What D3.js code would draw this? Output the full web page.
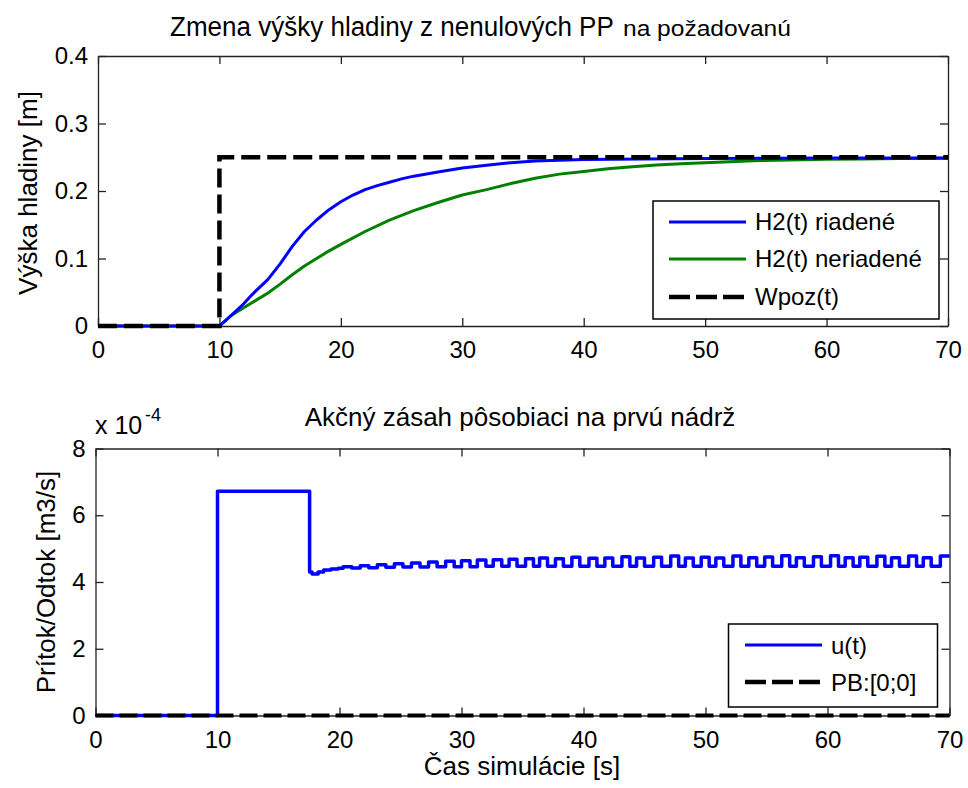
<!DOCTYPE html>
<html><head><meta charset="utf-8">
<script src="https://cdn.jsdelivr.net/npm/d3@7"></script>
<style>
html,body{margin:0;padding:0;background:#fff;}
svg{display:block;}
text{font-family:"Liberation Sans",Arial,sans-serif;fill:#000;}
</style></head>
<body>
<svg id="chart" width="968" height="788"></svg>
<script>
// ---------- DATA ----------
const xTicks = [0, 10, 20, 30, 40, 50, 60, 70];
const topYTicks = [0, 0.1, 0.2, 0.3, 0.4];
const topYTickLabels = ["0", "0.1", "0.2", "0.3", "0.4"];
const botYTicks = [0, 2, 4, 6, 8];

// Wpoz(t) - setpoint step
const wpozTime = [0, 10, 10, 70];
const wpozValue = [0, 0, 0.25, 0.25];

// H2(t) riadené (controlled)
const h2cTime  = [0, 10, 11, 12, 12.5, 13, 14, 15, 16, 17, 18, 19, 20, 21, 22, 23, 24, 25, 26, 28, 30, 32, 34, 36, 38, 40, 45, 50, 55, 60, 65, 70];
const h2cValue = [0, 0, 0.016, 0.033, 0.043, 0.052, 0.069, 0.092, 0.118, 0.140, 0.157, 0.172, 0.184, 0.194, 0.202, 0.208, 0.213, 0.218, 0.222, 0.228, 0.234, 0.238, 0.242, 0.2445, 0.2455, 0.2465, 0.2475, 0.248, 0.2485, 0.249, 0.249, 0.249];

// H2(t) neriadené (uncontrolled)
const h2uTime  = [0, 10, 11, 12, 13, 14, 15, 16, 17, 18, 19, 20, 22, 24, 26, 28, 30, 32, 34, 36, 38, 40, 42, 44, 46, 48, 50, 52, 54, 57, 60, 63, 66, 70];
const h2uValue = [0, 0, 0.016, 0.027, 0.038, 0.049, 0.062, 0.076, 0.089, 0.100, 0.111, 0.121, 0.140, 0.157, 0.171, 0.183, 0.194, 0.202, 0.211, 0.219, 0.225, 0.229, 0.233, 0.236, 0.2385, 0.2405, 0.242, 0.2435, 0.2448, 0.246, 0.247, 0.2475, 0.248, 0.2485];

// u(t) action signal (x 1e-4), step-after samples
const uTime = [0, 10, 17.55, 17.75, 18.25, 18.7, 19.3, 19.9,
  20.3, 21.0, 21.7, 22.4, 23.1, 23.8, 24.5, 25.2, 25.9, 26.6, 27.3, 28.0, 28.7, 29.4,
  30.0, 30.7, 31.3, 32.0, 32.6, 33.3, 33.9, 34.55, 35.25, 35.9, 36.4, 37.05, 37.7, 38.35,
  39.05, 39.7, 40.45, 41.1, 41.75, 42.4, 43.15, 43.8, 44.35, 45.0, 45.75, 46.4, 47.15, 47.8,
  48.35, 49.0, 49.65, 50.3, 50.85, 51.5, 52.25, 52.9, 53.55, 54.2, 54.85, 55.5, 56.25, 56.9,
  57.45, 58.1, 58.85, 59.5, 60.25, 60.9, 61.45, 62.1, 62.65, 63.3, 64.05, 64.7, 65.25, 65.9,
  66.65, 67.3, 67.85, 68.5, 69.25, 70];
const uValue = [0, 6.72, 4.30, 4.24, 4.30, 4.36, 4.39, 4.41,
  4.46, 4.42, 4.49, 4.43, 4.52, 4.44, 4.55, 4.45, 4.57, 4.45, 4.60, 4.46, 4.62, 4.46,
  4.64, 4.46, 4.66, 4.47, 4.67, 4.47, 4.68, 4.47, 4.70, 4.47, 4.72, 4.47, 4.70, 4.47,
  4.74, 4.47, 4.71, 4.47, 4.72, 4.47, 4.76, 4.47, 4.72, 4.47, 4.74, 4.47, 4.78, 4.47,
  4.72, 4.47, 4.74, 4.47, 4.72, 4.47, 4.78, 4.47, 4.73, 4.47, 4.75, 4.47, 4.79, 4.47,
  4.73, 4.47, 4.76, 4.47, 4.79, 4.47, 4.73, 4.47, 4.74, 4.47, 4.77, 4.47, 4.73, 4.47,
  4.78, 4.47, 4.73, 4.47, 4.78, 4.78];

// PB:[0;0]
const pbTime = [0, 70];
const pbValue = [0, 0];

const topTitleMain = "Zmena výšky hladiny z nenulových PP";
const topTitleTail = "na požadovanú";
const topYLabel = "Výška hladiny [m]";
const topLegend = ["H2(t) riadené", "H2(t) neriadené", "Wpoz(t)"];
const botTitle = "Akčný zásah pôsobiaci na prvú nádrž";
const botYLabel = "Prítok/Odtok [m3/s]";
const botXLabel = "Čas simulácie [s]";
const botLegend = ["u(t)", "PB:[0;0]"];

// ---------- DRAW ----------
const svg = d3.select("#chart");
svg.append("rect").attr("width", 968).attr("height", 788).attr("fill", "#fff");

const BLUE = "#0000ff", GREEN = "#008000", BLACK = "#000";
const DASH = "19,7";

function makePanel(cfg) {
  const x = d3.scaleLinear().domain([0, 70]).range([cfg.left, cfg.right]);
  const y = d3.scaleLinear().domain(cfg.yDomain).range([cfg.bottom, cfg.top]);
  const g = svg.append("g");
  const clipId = "clip" + cfg.id;
  svg.append("clipPath").attr("id", clipId).append("rect")
    .attr("x", cfg.left - 3).attr("y", cfg.top - 3)
    .attr("width", cfg.right - cfg.left + 6).attr("height", cfg.bottom - cfg.top + 6);
  const axStyle = sel => {
    sel.selectAll(".domain").attr("stroke", "#222").attr("stroke-width", 1.3);
    sel.selectAll(".tick line").attr("stroke", "#222").attr("stroke-width", 1.3);
    sel.selectAll("text").style("font-size", "24px").attr("fill", "#000")
      .style("font-family", '"Liberation Sans",Arial,sans-serif');
  };
  g.append("g").attr("transform", `translate(0,${cfg.bottom})`)
    .call(d3.axisBottom(x).tickValues(xTicks).tickSizeInner(-8).tickSizeOuter(0).tickPadding(15).tickFormat(d3.format("d")))
    .call(axStyle);
  g.append("g").attr("transform", `translate(0,${cfg.top})`)
    .call(d3.axisTop(x).tickValues(xTicks).tickSizeInner(-8).tickSizeOuter(0).tickFormat(""))
    .call(axStyle);
  g.append("g").attr("transform", `translate(${cfg.left},0)`)
    .call(d3.axisLeft(y).tickValues(cfg.yTicks).tickSizeInner(-8).tickSizeOuter(0).tickPadding(10)
      .tickFormat((d, i) => cfg.yTickLabels[i]))
    .call(axStyle);
  g.append("g").attr("transform", `translate(${cfg.right},0)`)
    .call(d3.axisRight(y).tickValues(cfg.yTicks).tickSizeInner(-8).tickSizeOuter(0).tickFormat(""))
    .call(axStyle);
  const plot = svg.append("g").attr("clip-path", `url(#${clipId})`);
  return { x, y, g, plot };
}

// ---- top panel ----
const P1 = makePanel({ id: 1, left: 98, right: 948, top: 56, bottom: 326,
  yDomain: [0, 0.4], yTicks: topYTicks, yTickLabels: topYTickLabels });
const line1 = d3.line().x(d => P1.x(d[0])).y(d => P1.y(d[1]));
P1.plot.append("path").datum(d3.zip(h2uTime, h2uValue)).attr("d", line1)
  .attr("fill", "none").attr("stroke", GREEN).attr("stroke-width", 3).attr("stroke-linejoin", "round");
P1.plot.append("path").datum(d3.zip(h2cTime, h2cValue)).attr("d", line1)
  .attr("fill", "none").attr("stroke", BLUE).attr("stroke-width", 3).attr("stroke-linejoin", "round");
P1.plot.append("path").datum(d3.zip(wpozTime, wpozValue)).attr("d", line1)
  .attr("fill", "none").attr("stroke", BLACK).attr("stroke-width", 4.5).attr("stroke-dasharray", DASH);

// top title (condensed main part + smaller tail), fitted by horizontal scaling
function fitText(str, x, y, size, targetW) {
  const t = svg.append("text").attr("x", 0).attr("y", 0).style("font-size", size + "px").text(str);
  const w = t.node().getComputedTextLength();
  t.attr("transform", `translate(${x},${y}) scale(${targetW / w},1)`);
  return t;
}
fitText(topTitleMain, 170, 36, 28, 444);
fitText(topTitleTail, 623, 36, 22, 168);

// top y label
svg.append("text").attr("transform", "translate(37,193) rotate(-90)")
  .attr("text-anchor", "middle").style("font-size", "26px").text(topYLabel);

// top legend
const lg1 = svg.append("g");
lg1.append("rect").attr("x", 653).attr("y", 201).attr("width", 286).attr("height", 118)
  .attr("fill", "#fff").attr("stroke", "#000").attr("stroke-width", 1.5);
const lg1Rows = [
  { y: 222, c: BLUE, w: 3, dash: null },
  { y: 259, c: GREEN, w: 3, dash: null },
  { y: 297, c: BLACK, w: 4.5, dash: "21,6" }
];
lg1Rows.forEach((r, i) => {
  const l = lg1.append("line").attr("x1", 669).attr("x2", 746).attr("y1", r.y).attr("y2", r.y)
    .attr("stroke", r.c).attr("stroke-width", r.w);
  if (r.dash) l.attr("stroke-dasharray", r.dash);
  lg1.append("text").attr("x", 755).attr("y", r.y + 8).style("font-size", "24px").text(topLegend[i]);
});

// ---- bottom panel ----
const P2 = makePanel({ id: 2, left: 95.5, right: 949.5, top: 448.5, bottom: 715.5,
  yDomain: [0, 8], yTicks: botYTicks, yTickLabels: botYTicks.map(String) });
const line2 = d3.line().x(d => P2.x(d[0])).y(d => P2.y(d[1]));
const step2 = d3.line().curve(d3.curveStepAfter).x(d => P2.x(d[0])).y(d => P2.y(d[1]));
P2.plot.append("path").datum(d3.zip(uTime, uValue)).attr("d", step2)
  .attr("fill", "none").attr("stroke", BLUE).attr("stroke-width", 3.5).attr("stroke-linejoin", "round");
P2.plot.append("path").datum(d3.zip(pbTime, pbValue)).attr("d", line2)
  .attr("fill", "none").attr("stroke", BLACK).attr("stroke-width", 4).attr("stroke-dasharray", "18,6");

svg.append("text").attr("x", 520).attr("y", 426).attr("text-anchor", "middle")
  .style("font-size", "26px").text(botTitle);
svg.append("text").attr("transform", "translate(55,582) rotate(-90)")
  .attr("text-anchor", "middle").style("font-size", "26px").text(botYLabel);
svg.append("text").attr("x", 522).attr("y", 775).attr("text-anchor", "middle")
  .style("font-size", "26px").text(botXLabel);
// exponent
svg.append("text").attr("x", 95).attr("y", 434).style("font-size", "25px").text("x 10");
svg.append("text").attr("x", 145).attr("y", 421).style("font-size", "18px").text("-4");

// bottom legend
const lg2 = svg.append("g");
lg2.append("rect").attr("x", 728.5).attr("y", 624).attr("width", 209).attr("height", 83)
  .attr("fill", "#fff").attr("stroke", "#000").attr("stroke-width", 1.5);
const lg2Rows = [
  { y: 645, c: BLUE, w: 3, dash: null },
  { y: 682, c: BLACK, w: 4.5, dash: "21,6" }
];
lg2Rows.forEach((r, i) => {
  const l = lg2.append("line").attr("x1", 745).attr("x2", 822).attr("y1", r.y).attr("y2", r.y)
    .attr("stroke", r.c).attr("stroke-width", r.w);
  if (r.dash) l.attr("stroke-dasharray", r.dash);
  lg2.append("text").attr("x", 831).attr("y", r.y + 9).style("font-size", "24px").text(botLegend[i]);
});
</script>
</body></html>
